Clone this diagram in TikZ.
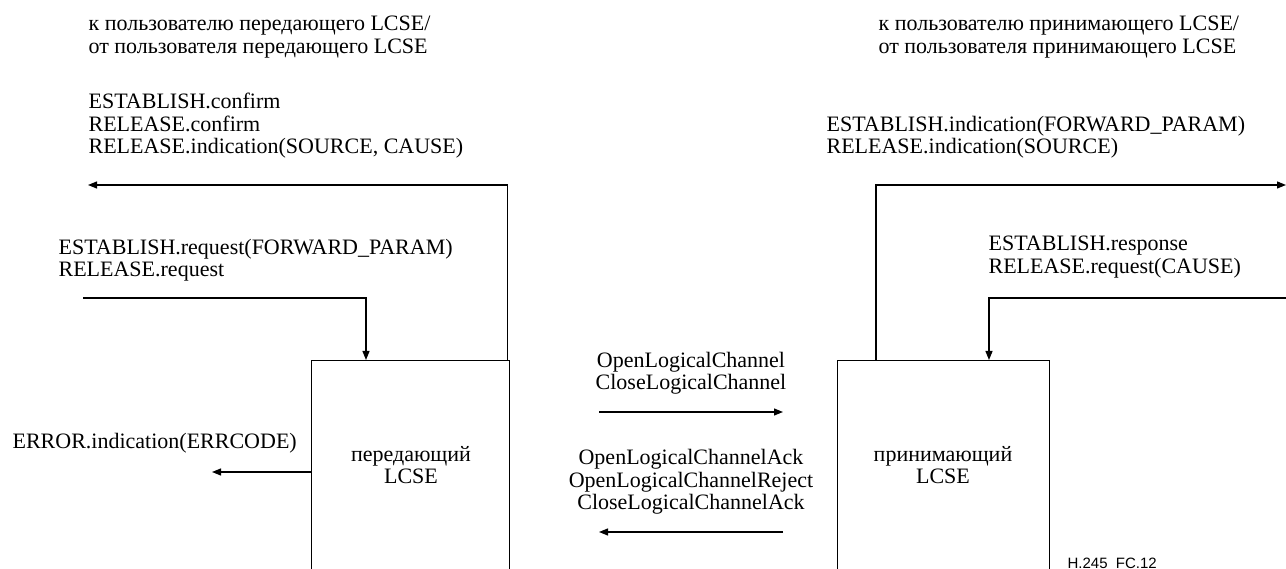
\documentclass[tikz,border=0pt]{standalone}
\usepackage{fontspec}
\setmainfont{Liberation Serif}
\newfontfamily\tagfont{Liberation Sans}
\usetikzlibrary{arrows.meta}

\begin{document}
\begin{tikzpicture}[x=1pt, y=-1pt, line width=1.2pt,
    sig/.style={-{Triangle[length=9pt,width=7pt]}},
    lbl/.style={inner sep=0pt, align=left, anchor=west, font=\fontsize{22}{22.5}\selectfont},
    clbl/.style={inner sep=0pt, align=center, font=\fontsize{22}{22.5}\selectfont},
    lcse/.style={draw, anchor=north west, minimum height=260pt, inner sep=0pt}]
    \useasboundingbox (0,0) rectangle (1286,569);

    % the two entities
    \node[lcse, minimum width=198pt] (boxL) at (311,360) {};
    \node[lcse, minimum width=212pt] (boxR) at (837,360) {};
    \node[clbl] (nameL) at (411,465) {передающий\\LCSE};
    \node[clbl] (nameR) at (943,465) {принимающий\\LCSE};

    % sending side
    \node[lbl] (userL) at (88,37) {к пользователю передающего LCSE/\\от пользователя передающего LCSE};
    \node[lbl] (confL) at (88,126) {ESTABLISH.confirm\\RELEASE.confirm\\RELEASE.indication(SOURCE, CAUSE)};
    \node[lbl] (reqL) at (58,260) {ESTABLISH.request(FORWARD\_PARAM)\\RELEASE.request};
    \node[lbl] (errL) at (12,443) {ERROR.indication(ERRCODE)};
    \coordinate (confEnd) at (88,185);
    \coordinate (reqStart) at (83,298);
    \coordinate (errEnd) at (212,472);

    \draw[sig] (boxL.north east) ++(-3,0) |- (confEnd);
    \draw[sig] (reqStart) -| (366,360);
    \draw[sig] (boxL.west |- errEnd) -- (errEnd);

    % messages between the entities
    \node[clbl] (fwd) at (691,373) {OpenLogicalChannel\\CloseLogicalChannel};
    \node[clbl] (bwd) at (691,482) {OpenLogicalChannelAck\\OpenLogicalChannelReject\\CloseLogicalChannelAck};
    \coordinate (fwdA) at (599,412);
    \coordinate (fwdB) at (783,412);
    \coordinate (bwdA) at (783,532);
    \coordinate (bwdB) at (599,532);
    \draw[sig] (fwdA) -- (fwdB);
    \draw[sig] (bwdA) -- (bwdB);

    % receiving side
    \node[lbl] (userR) at (878,37) {к пользователю принимающего LCSE/\\от пользователя принимающего LCSE};
    \node[lbl] (indR) at (826,137) {ESTABLISH.indication(FORWARD\_PARAM)\\RELEASE.indication(SOURCE)};
    \node[lbl] (respR) at (988,257) {ESTABLISH.response\\RELEASE.request(CAUSE)};
    \coordinate (indEnd) at (1286,185);
    \coordinate (respStart) at (1286,298);

    \draw[sig] (boxR.north west) ++(39,0) |- (indEnd);
    \draw[sig] (respStart) -| (989,360);

    \node[anchor=base west, inner sep=0pt, font=\tagfont\fontsize{15}{15}\selectfont] (tag) at (1067,568) {H.245\ \ FC.12};
\end{tikzpicture}
\end{document}
